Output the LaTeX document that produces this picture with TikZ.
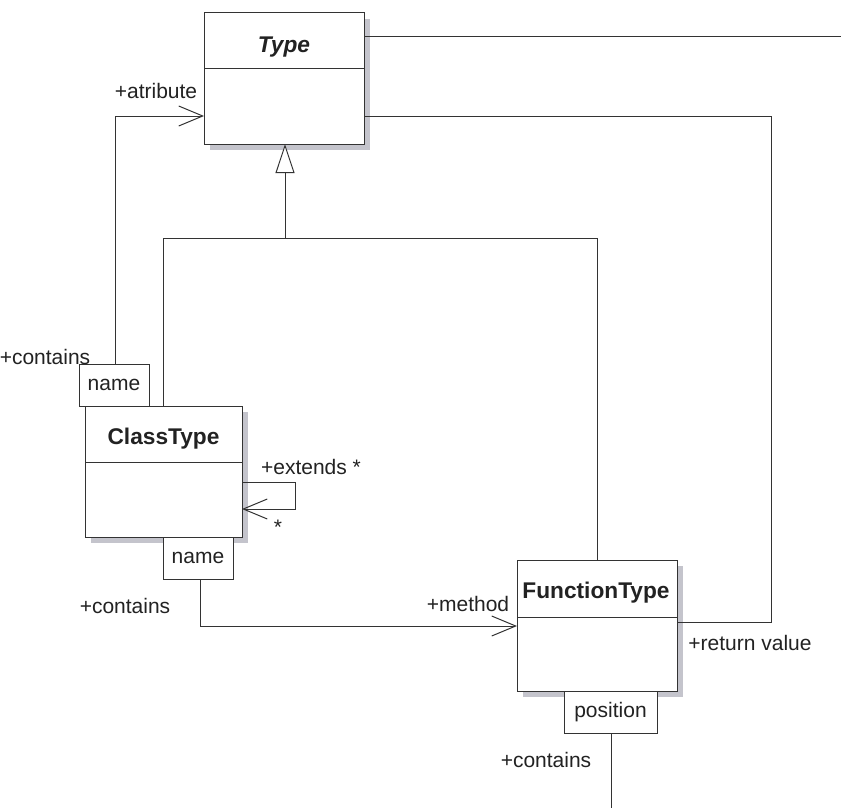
\documentclass[tikz,border=0pt]{standalone}
\usepackage{fontspec}
\setmainfont{Liberation Sans}
\usetikzlibrary{arrows.meta,shadows}
\definecolor{ln}{HTML}{333333}
\definecolor{sh}{HTML}{C4C4CC}
\definecolor{tx}{HTML}{222222}
\begin{document}
\begin{tikzpicture}[x=1pt,y=-1pt,line width=1pt,
  font=\fontsize{21}{24}\selectfont, text=tx,
  cls/.style={draw=ln, fill=white, outer sep=0pt, inner sep=0pt, anchor=north west,
    general shadow={fill=sh, shadow xshift=6pt, shadow yshift=-6pt}},
  qual/.style={draw=ln, fill=white, outer sep=0pt, inner sep=0pt},
  title/.style={font=\fontsize{22.7}{26}\selectfont\bfseries},
  lbl/.style={inner sep=0pt},
  conn/.style={draw=ln},
  nav/.style={conn, -{Straight Barb[length=24pt,width=20pt]}},
  gen/.style={conn, -{Triangle[open,length=29pt,width=19pt,fill=white]}}]
\useasboundingbox (0,0) rectangle (846,808);

% class boxes
\node[cls, minimum width=160pt, minimum height=131pt] (type) at (204,13) {};
\node[title] (typet) at (284,47) {\itshape Type};
\draw[ln] (type.west |- 0,69) -- (type.east |- 0,69);

\node[cls, minimum width=157pt, minimum height=131pt] (ct) at (85,406) {};
\node[title] (ctt) at (163.5,439) {ClassType};
\draw[ln] (ct.west |- 0,462) -- (ct.east |- 0,462);

\node[cls, minimum width=160pt, minimum height=131pt] (ft) at (517,560) {};
\node[title] (ftt) at (596,593) {FunctionType};
\draw[ln] (ft.west |- 0,617) -- (ft.east |- 0,617);

% qualifiers
\node[qual, minimum width=70pt, minimum height=42pt, anchor=south west] (q1) at (79,406) {name};
\node[qual, minimum width=70pt, minimum height=42pt, anchor=north west] (q2) at (163,537) {name};
\node[qual, minimum width=93pt, minimum height=42pt, anchor=north west] (q3) at (564,691) {position};

% free ends
\coordinate (e1) at (841,37);
\coordinate (e2) at (611,808);

% connectors
\draw[conn] (type.east |- 0,37) -- (e1);
\draw[conn] (type.east |- 0,116) -- (771,116) -- (771,622) -- (ft.east |- 0,622);
\draw[conn] (ct.north -| 163,0) -- (163,238) -- (597,238) -- (ft.north -| 597,0);
\draw[gen] (285,238) -- (type.south -| 285,0);
\draw[nav] (q1.north -| 115,0) -- (115,116) -- (type.west |- 0,116);
\draw[nav] (ct.east |- 0,482) -- (295,482) -- (295,509) -- (ct.east |- 0,509);
\draw[nav] (q2.south -| 200,0) -- (200,626) -- (ft.west |- 0,626);
\draw[conn] (q3.south -| 611,0) -- (e2);

% labels
\node[lbl] (l1) at (156,91) {+atribute};
\node[lbl] (l2) at (45,357) {+contains};
\node[lbl] (l3) at (311,467) {+extends *};
\node[lbl] (l4) at (278,527) {*};
\node[lbl] (l5) at (125,606) {+contains};
\node[lbl] (l6) at (468,604) {+method};
\node[lbl] (l7) at (750,643) {+return value};
\node[lbl] (l8) at (546,760) {+contains};
\end{tikzpicture}
\end{document}
